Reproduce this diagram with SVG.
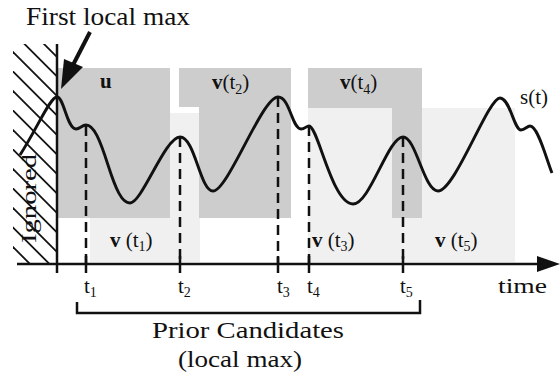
<svg xmlns="http://www.w3.org/2000/svg" width="560" height="377" viewBox="0 0 560 377">
<style>
text{font-family:"Liberation Serif","Times New Roman",serif;fill:#111}
.ln{stroke:#111;stroke-width:2.5;fill:none}
.curve{stroke:#111;stroke-width:2.9;fill:none}
.dash{stroke:#111;stroke-width:2.5;stroke-dasharray:10,6;fill:none}
.hatch line{stroke:#111;stroke-width:1.8}
.med{fill:#cdcdcd}
.light{fill:#f0f0f0}
.lbl{font-size:21px}
.b{font-weight:bold}
.sub{font-size:14px}
</style>
<defs>
<clipPath id="hclip"><rect x="13" y="44" width="44" height="220"/></clipPath>
</defs>
<rect width="560" height="377" fill="#fff"/>

<g id="windows">
<rect class="light" x="90" y="113" width="110" height="149"/>
<rect class="light" x="308" y="108" width="207" height="154"/>
<rect id="win-u" class="med" x="57" y="68" width="113" height="150"/>
<path id="win-v2" class="med" d="M179,68 H291 V218 H199 V107 H179 Z"/>
<path id="win-v4" class="med" d="M308,68 H422 V218 H392 V108 H308 Z"/>
</g>

<g id="ignored-region">
<g class="hatch" clip-path="url(#hclip)">
<line x1="-40" y1="-40" x2="80" y2="80"/>
<line x1="-40" y1="-20.5" x2="80" y2="99.5"/>
<line x1="-40" y1="-1" x2="80" y2="119"/>
<line x1="-40" y1="18.5" x2="80" y2="138.5"/>
<line x1="-40" y1="38" x2="80" y2="158"/>
<line x1="-40" y1="57.5" x2="80" y2="177.5"/>
<line x1="-40" y1="77" x2="80" y2="197"/>
<line x1="-40" y1="96.5" x2="80" y2="216.5"/>
<line x1="-40" y1="116" x2="80" y2="236"/>
<line x1="-40" y1="135.5" x2="80" y2="255.5"/>
<line x1="-40" y1="155" x2="80" y2="275"/>
<line x1="-40" y1="174.5" x2="80" y2="294.5"/>
<line x1="-40" y1="194" x2="80" y2="314"/>
</g>
<text transform="translate(36,243) rotate(-90)" font-size="20" textLength="89" lengthAdjust="spacingAndGlyphs">Ignored</text>
</g>

<g id="connectors">
<line class="ln" x1="57" y1="44" x2="57" y2="273"/>
<line class="ln" x1="17" y1="264" x2="540" y2="264"/>
<polygon points="537,256 560,264 537,272" fill="#111"/>
<line class="dash" x1="86" y1="126" x2="86" y2="264"/>
<line class="dash" x1="180" y1="137" x2="180" y2="264"/>
<line class="dash" x1="278" y1="97" x2="278" y2="264"/>
<line class="dash" x1="309" y1="126" x2="309" y2="264"/>
<line class="dash" x1="403" y1="137" x2="403" y2="264"/>
<g class="ln">
<line x1="86" y1="256" x2="86" y2="273"/>
<line x1="180" y1="256" x2="180" y2="273"/>
<line x1="278" y1="256" x2="278" y2="273"/>
<line x1="309" y1="256" x2="309" y2="273"/>
<line x1="403" y1="256" x2="403" y2="273"/>
</g>
<path class="ln" d="M77,302 V313 H420 V300"/>
<line x1="90" y1="32" x2="73" y2="65" stroke="#111" stroke-width="4"/>
<polygon points="61,89 64,59 83,67" fill="#111"/>
</g>

<g id="signal">
<path class="curve" d="M20,155 C38,127 50,97 57,97 C64,97 67,129 76,129 C80,129 82,125 86,125 C94,125 100,140 108,165 C116,190 122,203 130,203 C142,203 165,137 180,137 C195,137 200,191 213,191 C228,191 262,97 278,97 C290,97 292,129 301,129 C305,129 306,126 309,126 C318,126 332,204 353,204 C370,204 388,137 403,137 C416,137 424,191 438,191 C455,191 488,98 500,98 C510,98 514,130 521,130 C525,130 527,126 530,126 C538,126 546,158 552,173"/>
<text x="520" y="104" font-size="21">s(t)</text>
</g>

<g id="labels">
<text x="26" y="25" font-size="25" textLength="164" lengthAdjust="spacingAndGlyphs">First local max</text>
<text x="100" y="88" class="lbl b">u</text>
<text x="212" y="89" class="lbl"><tspan class="b">v</tspan>(t<tspan class="sub" dy="5">2</tspan><tspan dy="-5">)</tspan></text>
<text x="340" y="89" class="lbl"><tspan class="b">v</tspan>(t<tspan class="sub" dy="5">4</tspan><tspan dy="-5">)</tspan></text>
<text x="110" y="247" class="lbl"><tspan class="b">v</tspan> (t<tspan class="sub" dy="4">1</tspan><tspan dy="-4">)</tspan></text>
<text x="312" y="247" class="lbl"><tspan class="b">v</tspan> (t<tspan class="sub" dy="4">3</tspan><tspan dy="-4">)</tspan></text>
<text x="435" y="247" class="lbl"><tspan class="b">v</tspan> (t<tspan class="sub" dy="4">5</tspan><tspan dy="-4">)</tspan></text>
<text x="84" y="293" class="lbl">t<tspan class="sub" dy="4">1</tspan></text>
<text x="178" y="293" class="lbl">t<tspan class="sub" dy="4">2</tspan></text>
<text x="277" y="293" class="lbl">t<tspan class="sub" dy="4">3</tspan></text>
<text x="307" y="293" class="lbl">t<tspan class="sub" dy="4">4</tspan></text>
<text x="400" y="293" class="lbl">t<tspan class="sub" dy="4">5</tspan></text>
<text x="498" y="293" font-size="22" textLength="49" lengthAdjust="spacingAndGlyphs">time</text>
<text x="248" y="338" font-size="23" text-anchor="middle" textLength="192" lengthAdjust="spacingAndGlyphs">Prior Candidates</text>
<text x="240" y="367" font-size="23" text-anchor="middle" textLength="124" lengthAdjust="spacingAndGlyphs">(local max)</text>
</g>
</svg>
